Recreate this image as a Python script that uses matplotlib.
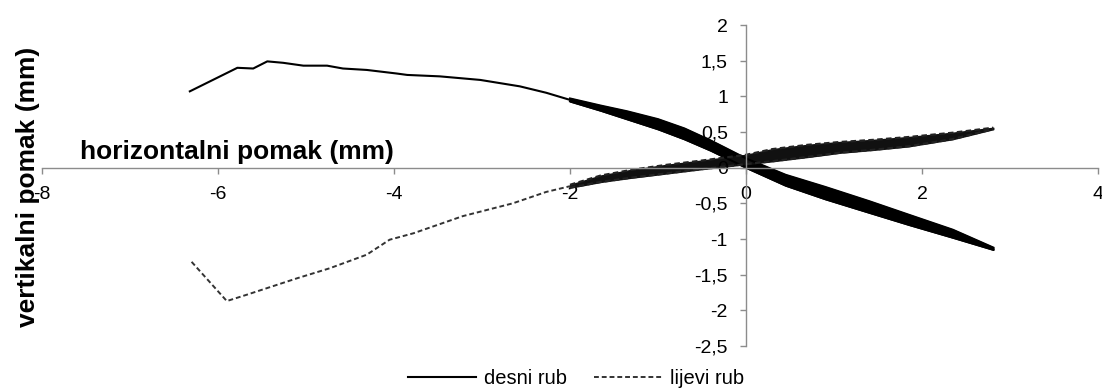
import numpy as np
import matplotlib
matplotlib.use('Agg')
import matplotlib.pyplot as plt

plt.rcParams['font.family'] = ['Liberation Sans', 'DejaVu Sans']

# desni rub - envelope part (x, y in mm)
desni_x = [-6.32, -5.78, -5.60, -5.44, -5.26, -5.03, -4.76, -4.58, -4.31, -3.97,
           -3.85, -3.48, -3.02, -2.57, -2.27, -2.0]
desni_y = [1.07, 1.40, 1.39, 1.49, 1.47, 1.43, 1.43, 1.39, 1.37, 1.32,
           1.30, 1.28, 1.23, 1.14, 1.05, 0.95]
# desni rub - cyclic band (upper / lower edge)
desni_band_x = [-2.0, -1.65, -1.35, -1.0, -0.7, -0.4, 0.0, 0.45, 0.9, 1.4, 1.85, 2.35, 2.81]
desni_band_hi = [0.97, 0.87, 0.79, 0.68, 0.55, 0.38, 0.13, -0.10, -0.27, -0.47, -0.66, -0.87, -1.12]
desni_band_lo = [0.93, 0.80, 0.68, 0.54, 0.40, 0.24, 0.00, -0.25, -0.44, -0.63, -0.80, -0.98, -1.15]

# lijevi rub - envelope part
lijevi_x = [-6.30, -5.90, -5.67, -5.10, -4.73, -4.31, -4.05, -3.78, -3.22, -2.65, -2.27, -2.0]
lijevi_y = [-1.32, -1.87, -1.78, -1.55, -1.41, -1.22, -1.01, -0.92, -0.68, -0.50, -0.34, -0.26]
# lijevi rub - cyclic band
lijevi_band_x = [-2.0, -1.65, -1.3, -0.9, -0.5, 0.0, 0.3, 0.7, 1.07, 1.45, 1.85, 2.35, 2.81]
lijevi_band_hi = [-0.24, -0.11, -0.03, 0.04, 0.10, 0.18, 0.26, 0.32, 0.36, 0.39, 0.43, 0.49, 0.56]
lijevi_band_lo = [-0.28, -0.20, -0.14, -0.08, -0.02, 0.05, 0.09, 0.15, 0.21, 0.25, 0.30, 0.40, 0.54]

x_ticks = [-8, -6, -4, -2, 0, 2, 4]
x_labels = ['-8', '-6', '-4', '-2', '0', '2', '4']
y_ticks = [-2.5, -2, -1.5, -1, -0.5, 0, 0.5, 1, 1.5, 2]
y_labels = ['-2,5', '-2', '-1,5', '-1', '-0,5', '0', '0,5', '1', '1,5', '2']

W, H = 1102, 389
fig = plt.figure(figsize=(W / 100, H / 100), dpi=100)
ax = fig.add_axes([42 / W, 1 - 346 / H, (1098 - 42) / W, (346 - 25) / H])

dash = (0, (2.5, 1.5))
l1, = ax.plot(desni_x, desni_y, color='black', lw=1.5, label='desni rub')
ax.fill_between(desni_band_x, desni_band_lo, desni_band_hi, color='black', lw=1.2)
ax.plot(desni_band_x, desni_band_hi, color='black', lw=1.5)
ax.plot(desni_band_x, desni_band_lo, color='black', lw=1.5)

l2, = ax.plot(lijevi_x, lijevi_y, color='#333333', lw=1.4, ls=dash, label='lijevi rub')
ax.fill_between(lijevi_band_x, lijevi_band_lo, lijevi_band_hi, color='#111111', lw=1.0)
ax.plot(lijevi_band_x, lijevi_band_hi, color='#222222', lw=1.6, ls=dash)
ax.plot(lijevi_band_x, lijevi_band_lo, color='#222222', lw=1.6, ls=dash)

ax.set_xlim(-8, 4)
ax.set_ylim(-2.5, 2)
for s in ['top', 'right']:
    ax.spines[s].set_visible(False)
ax.spines['left'].set_position(('data', 0))
ax.spines['bottom'].set_position(('data', 0))
for s in ['left', 'bottom']:
    ax.spines[s].set_color('#8c8c8c')
    ax.spines[s].set_linewidth(1.0)
ax.set_xticks(x_ticks)
ax.set_xticklabels(x_labels)
ax.set_yticks(y_ticks)
ax.set_yticklabels(y_labels)
ax.tick_params(axis='both', direction='out', length=4, width=1, color='#8c8c8c',
               labelsize=14, pad=9)

fig.text(237 / W, 1 - 152 / H, 'horizontalni pomak (mm)', fontsize=19, fontweight='bold',
         ha='center', va='center')
fig.text(28 / W, 1 - 187 / H, 'vertikalni pomak (mm)', fontsize=19, fontweight='bold',
         ha='center', va='center', rotation=90)

fig.legend(handles=[l1, l2], loc='center', bbox_to_anchor=(576 / W, 1 - 379 / H), ncol=2,
           frameon=False, fontsize=14.5, handlelength=3.4, handletextpad=0.4,
           columnspacing=1.3, borderpad=0)

fig.savefig('out.png', dpi=100)
